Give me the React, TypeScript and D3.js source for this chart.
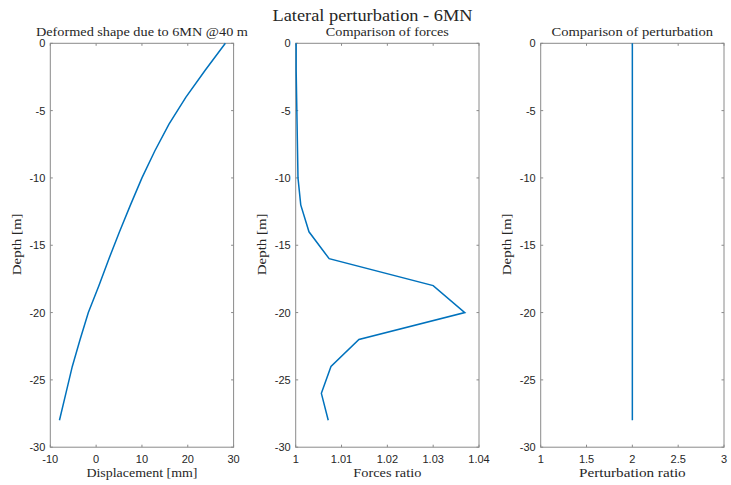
import React from "react";
import * as d3 from "d3";

const depths = [0, -2, -4, -6, -8, -10, -12, -14, -16, -18, -20, -22, -24, -26, -28];
const displacement = [28.2, 23.8, 19.6, 15.9, 12.8, 10.0, 7.5, 5.1, 2.8, 0.6, -1.7, -3.5, -5.2, -6.6, -8.0];
const forcesRatio = [1.0001, 1.0001, 1.0002, 1.0003, 1.0004, 1.0005, 1.0011, 1.0029, 1.0073, 1.03, 1.0369, 1.0138, 1.0077, 1.0056, 1.0071];
const perturbationRatio = [2, 2, 2, 2, 2, 2, 2, 2, 2, 2, 2, 2, 2, 2, 2];

const yTicks = [0, -5, -10, -15, -20, -25, -30];
const xTicks1 = [-10, 0, 10, 20, 30];
const xTicks2 = [1, 1.01, 1.02, 1.03, 1.04];
const xTicks3 = [1, 1.5, 2, 2.5, 3];

const mainTitle = "Lateral perturbation - 6MN";
const titles = ["Deformed shape due to 6MN @40 m", "Comparison of forces", "Comparison of perturbation"];
const xLabels = ["Displacement [mm]", "Forces ratio", "Perturbation ratio"];
const yLabel = "Depth [m]";

const panels = [
  { left: 50.3, domain: [-10, 30], ticks: xTicks1, values: displacement, fmt: (d: number) => String(d), titleW: 212, xlabW: 111 },
  { left: 295.7, domain: [1, 1.04], ticks: xTicks2, values: forcesRatio, fmt: (d: number) => (d === 1 ? "1" : d.toFixed(2)), titleW: 123, xlabW: 68 },
  { left: 540.7, domain: [1, 3], ticks: xTicks3, values: perturbationRatio, fmt: (d: number) => String(d), titleW: 161.6, xlabW: 106.7 },
];

const W = 183.3;
const TOP = 43.3;
const BOTTOM = 447.2;
const AX = "#8a8a8a";
const TXT = "#262626";
const SERIF = "'Liberation Serif', 'Times New Roman', serif";
const SANS = "'Liberation Sans', Arial, sans-serif";

export default function App() {
  const y = d3.scaleLinear().domain([-30, 0]).range([BOTTOM, TOP]);
  return (
    <svg width={731} height={485} style={{ position: "absolute", left: 0, top: 0, background: "#fff" }}>
      <rect x={0} y={0} width={731} height={485} fill="#fff" />
      <text x={372.5} y={20.5} textAnchor="middle" fontFamily={SERIF} fontSize={16} fill={TXT} textLength={200} lengthAdjust="spacingAndGlyphs">
        {mainTitle}
      </text>
      {panels.map((p, i) => {
        const x = d3.scaleLinear().domain(p.domain).range([p.left, p.left + W]);
        const line = d3
          .line<number>()
          .x((v) => x(v))
          .y((_, k) => y(depths[k]));
        const cx = p.left + W / 2;
        return (
          <g key={i}>
            <rect x={p.left} y={TOP} width={W} height={BOTTOM - TOP} fill="#fff" stroke="none" />
            {p.ticks.map((t) => (
              <g key={"x" + t}>
                <line x1={x(t)} x2={x(t)} y1={BOTTOM} y2={BOTTOM - 2.5} stroke={AX} strokeWidth={1} />
                <line x1={x(t)} x2={x(t)} y1={TOP} y2={TOP + 2.5} stroke={AX} strokeWidth={1} />
                <text x={x(t)} y={463.3} textAnchor="middle" fontFamily={SANS} fontSize={11} fill={TXT}>
                  {p.fmt(t)}
                </text>
              </g>
            ))}
            {yTicks.map((t) => (
              <g key={"y" + t}>
                <line x1={p.left} x2={p.left + 2.5} y1={y(t)} y2={y(t)} stroke={AX} strokeWidth={1} />
                <line x1={p.left + W} x2={p.left + W - 2.5} y1={y(t)} y2={y(t)} stroke={AX} strokeWidth={1} />
                <text x={p.left - 5} y={y(t) + 4} textAnchor="end" fontFamily={SANS} fontSize={11} fill={TXT}>
                  {t}
                </text>
              </g>
            ))}
            <rect x={p.left} y={TOP} width={W} height={BOTTOM - TOP} fill="none" stroke={AX} strokeWidth={1} />
            <path d={line(p.values) || ""} fill="none" stroke="#0072BD" strokeWidth={1.5} />
            <text x={cx} y={35.5} textAnchor="middle" fontFamily={SERIF} fontSize={13} fill={TXT} textLength={p.titleW} lengthAdjust="spacingAndGlyphs">
              {titles[i]}
            </text>
            <text x={cx} y={477} textAnchor="middle" fontFamily={SERIF} fontSize={13} fill={TXT} textLength={p.xlabW} lengthAdjust="spacingAndGlyphs">
              {xLabels[i]}
            </text>
            <text
              transform={`translate(${p.left - 29.5},${244.3}) rotate(-90)`}
              textAnchor="middle"
              fontFamily={SERIF}
              fontSize={13}
              fill={TXT}
              textLength={61.7}
              lengthAdjust="spacingAndGlyphs"
            >
              {yLabel}
            </text>
          </g>
        );
      })}
    </svg>
  );
}
